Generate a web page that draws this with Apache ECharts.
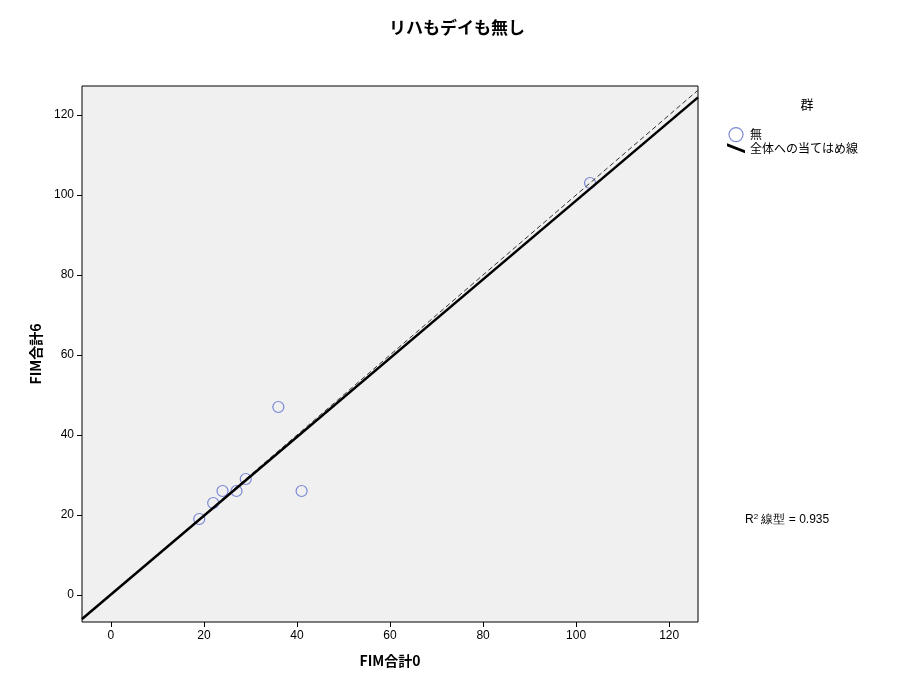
<!DOCTYPE html>
<html><head><meta charset="utf-8">
<script src="https://cdn.jsdelivr.net/npm/echarts@6/dist/echarts.min.js"></script>
<style>body{margin:0}#c{width:901px;height:684px}</style></head>
<body><div id="c"></div>
<script>
// data
const fim0 = [19, 22, 24, 27, 29, 36, 41, 103];
const fim6 = [19, 23, 26, 26, 29, 47, 26, 103];
const fitX = [-6.2, 126.2];
const fitY = [-6.0, 124.4];
const refXY = [-6.2, 126.2];
const ticks = [0, 20, 40, 60, 80, 100, 120];
const r2 = '0.935';

const font = '"Noto Sans CJK JP", sans-serif';
const numFont = '"Liberation Sans", Arial, sans-serif';
const chart = echarts.init(document.getElementById('c'));

const axisCommon = {
    type: 'value', nameLocation: 'middle',
    nameTextStyle: { fontFamily: font, fontSize: 14, fontWeight: 'bold', color: '#000' },
    axisLine: { show: false, onZero: false }, splitLine: { show: false },
    axisTick: { show: true, inside: false, length: 5, lineStyle: { color: '#000' }, customValues: ticks },
    axisLabel: { color: '#000', fontSize: 12, fontFamily: numFont, customValues: ticks }
};

chart.setOption({
    animation: false,
    backgroundColor: '#fff',
    title: [
        { text: 'リハもデイも無し', left: 452, top: 14, textAlign: 'center',
          textStyle: { fontFamily: font, fontSize: 17, fontWeight: 'bold', color: '#000' } },
        { text: '群', left: 802, top: 93, textAlign: 'center',
          textStyle: { fontFamily: font, fontSize: 13, fontWeight: 'normal', color: '#000' } },
        { text: 'R{s|2} 線型 = ' + r2, left: 740, top: 508,
          textStyle: { fontFamily: numFont, fontSize: 12, fontWeight: 'normal', color: '#000',
                       rich: { s: { fontSize: 8, verticalAlign: 'top', padding: [0, 0, 6, 0] } } } }
    ],
    legend: {
        orient: 'vertical', left: 722, top: 122, itemGap: 0, itemWidth: 18, itemHeight: 14,
        textStyle: { fontFamily: font, fontSize: 12, color: '#000' },
        data: [
            { name: '無', icon: 'circle', itemStyle: { color: 'transparent', borderColor: '#5a6bd0', borderWidth: 1.2 } },
            { name: '全体への当てはめ線', icon: 'path://M0,0 L18,7 L18,10 L0,3 Z', itemStyle: { color: '#000' } }
        ]
    },
    grid: { left: 82, top: 86, width: 616, height: 536, show: true, backgroundColor: '#f0f0f0',
            borderColor: '#000', borderWidth: 1 },
    xAxis: Object.assign({}, axisCommon, { min: -6.2, max: 126.2, name: 'FIM合計0', nameGap: 32 }),
    yAxis: Object.assign({}, axisCommon, { min: -6.75, max: 127.25, name: 'FIM合計6', nameGap: 30 }),
    series: [
        { name: 'ref', type: 'line', data: refXY.map(v => [v, v]), symbol: 'none', silent: true,
          lineStyle: { color: '#333', width: 1, type: [5, 3] } },
        { name: '全体への当てはめ線', type: 'line', data: fitX.map((x, i) => [x, fitY[i]]), symbol: 'none',
          lineStyle: { color: '#000', width: 2.5 }, itemStyle: { color: '#000' } },
        { name: '無', type: 'scatter', data: fim0.map((x, i) => [x, fim6[i]]), symbolSize: 11,
          itemStyle: { color: 'transparent', borderColor: '#5a6bd0', borderWidth: 1.2 } }
    ]
});
</script></body></html>
